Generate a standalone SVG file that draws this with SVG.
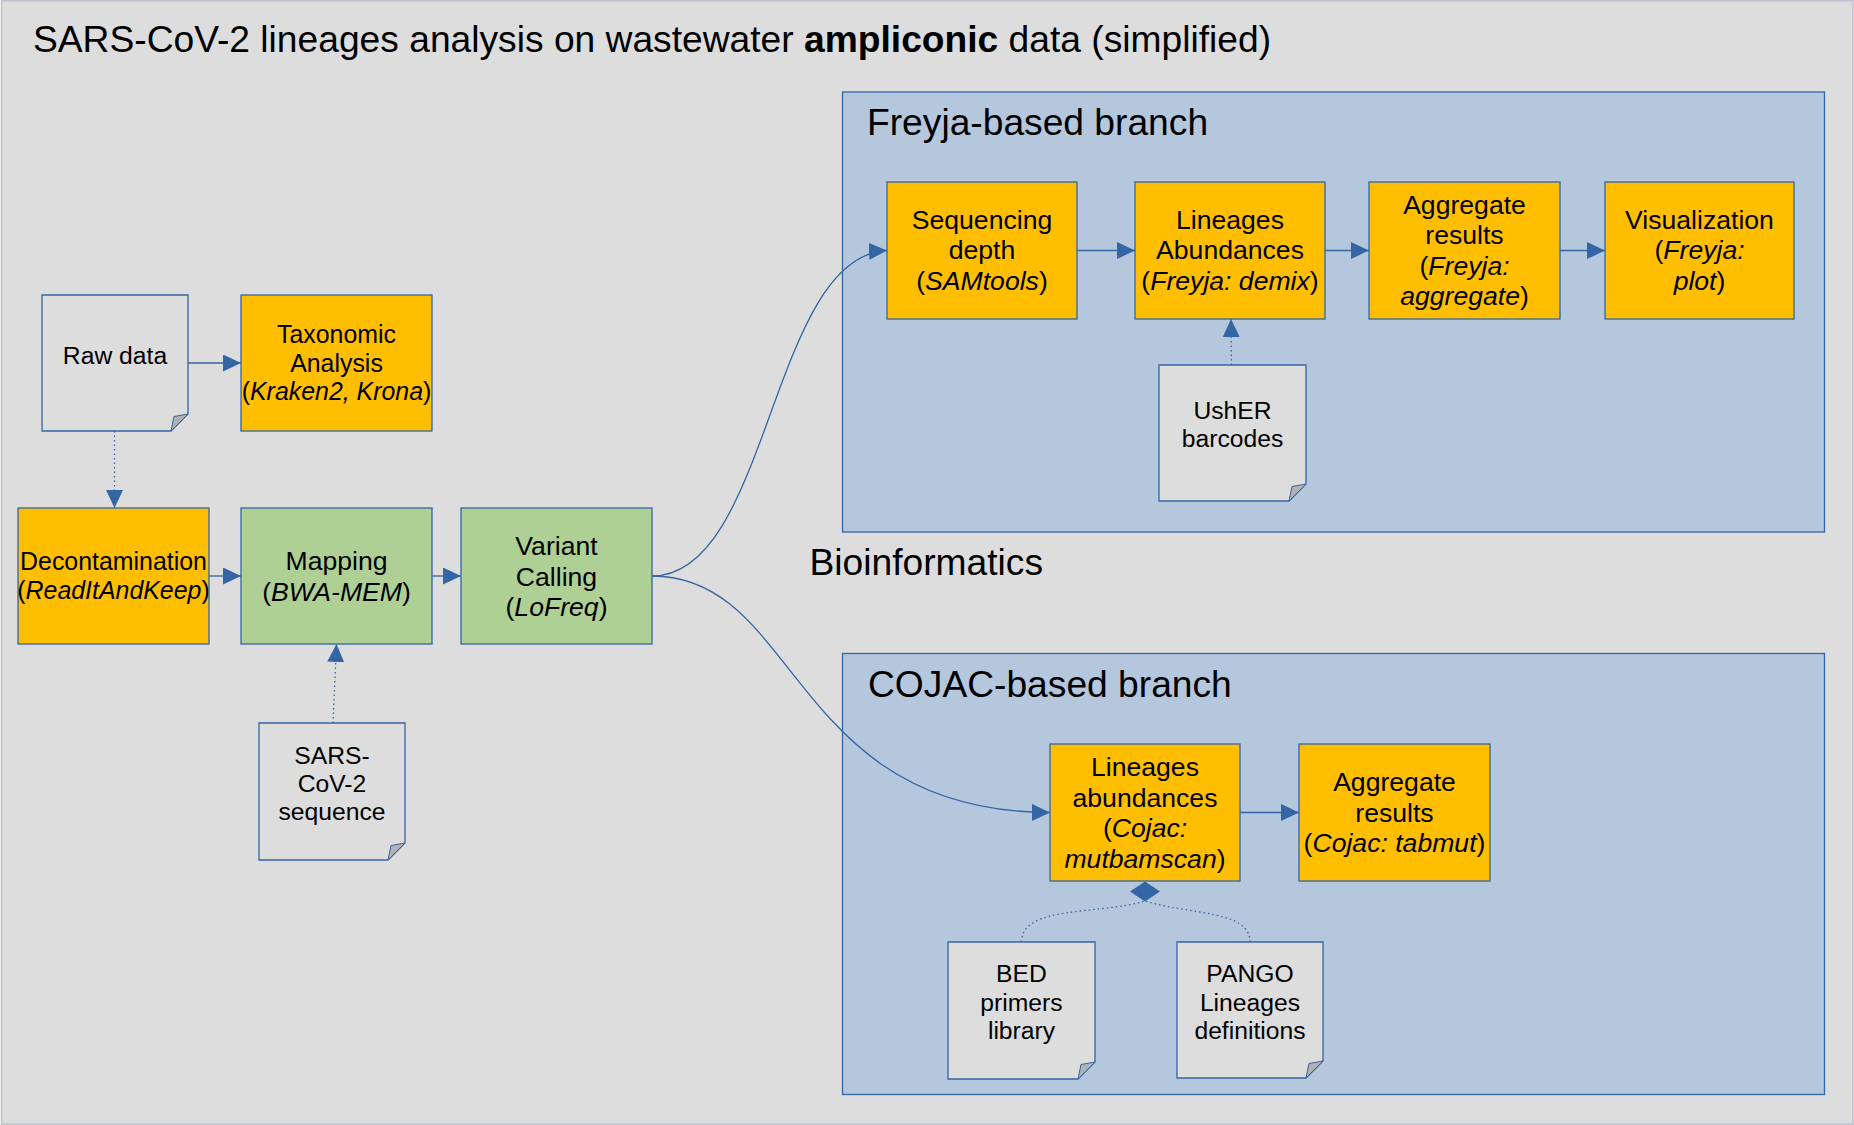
<svg xmlns="http://www.w3.org/2000/svg" width="1854" height="1125" viewBox="0 0 1854 1125">
<defs>
<style>
.bg{fill:#dddddd;stroke:#c0c0d0;stroke-width:1.5}
.proc{fill:#ffbf00;stroke:#3465a4;stroke-width:1.3}
.map{fill:#afd095;stroke:#3465a4;stroke-width:1.3}
.cont{fill:#b4c7dc;stroke:#3465a4;stroke-width:1.3}
.note{fill:#dddddd;stroke:#3465a4;stroke-width:1.3}
.fold{fill:#b2b2b2;stroke:#3465a4;stroke-width:1}
text{font-family:"Liberation Sans",Arial,sans-serif;fill:#000}
.t{font-size:24.9px;text-anchor:middle}
.n{font-size:24.7px;text-anchor:middle}
.tb{font-size:26.6px;text-anchor:middle}
.big{font-size:37.2px}
.i{font-style:italic}
.conn{fill:none;stroke:#3465a4;stroke-width:1.3}
.dot{stroke-dasharray:1.5 3}
</style>
<marker id="arr" markerUnits="userSpaceOnUse" markerWidth="18" markerHeight="17" refX="18" refY="8.5" orient="auto">
<path d="M0,0 L18,8.5 L0,17 Z" fill="#3465a4"/>
</marker>
</defs>
<rect class="bg" x="1.5" y="0.75" width="1851.5" height="1123.5"/>
<text class="big" x="33" y="51.7">SARS-CoV-2 lineages analysis on wastewater <tspan font-weight="bold">ampliconic</tspan> data (simplified)</text>

<g id="freyja-branch">
<rect class="cont" x="842.5" y="92" width="982" height="440"/>
<text class="big" x="867" y="135">Freyja-based branch</text>
</g>
<g id="cojac-branch">
<rect class="cont" x="842.5" y="653.5" width="982" height="441"/>
<text class="big" x="868" y="697.3">COJAC-based branch</text>
</g>
<text class="big" x="809.5" y="574.5">Bioinformatics</text>

<g id="raw-data">
<path class="note" d="M42,295 H188 V414 L171,431 H42 Z"/>
<path class="fold" d="M188,414 L171,431 L174,416.5 Z"/>
<text class="n" x="115" y="364">Raw data</text>
</g>
<g id="taxonomic">
<rect class="proc" x="241" y="295" width="191" height="136"/>
<text class="t" x="336.5" y="343.2">Taxonomic</text>
<text class="t" x="336.5" y="371.8">Analysis</text>
<text class="t" x="336.5" y="400.4">(<tspan class="i">Kraken2, Krona</tspan>)</text>
</g>
<g id="decontamination">
<rect class="proc" x="18" y="508" width="191" height="136"/>
<text class="t" x="113.5" y="570">Decontamination</text>
<text class="t" x="113.5" y="598.6">(<tspan class="i">ReadItAndKeep</tspan>)</text>
</g>
<g id="mapping">
<rect class="map" x="241" y="508" width="191" height="136"/>
<text class="tb" x="336.5" y="570.2">Mapping</text>
<text class="tb" x="336.5" y="600.8">(<tspan class="i">BWA-MEM</tspan>)</text>
</g>
<g id="variant-calling">
<rect class="map" x="461" y="508" width="191" height="136"/>
<text class="tb" x="556.5" y="554.9">Variant</text>
<text class="tb" x="556.5" y="585.5">Calling</text>
<text class="tb" x="556.5" y="616.1">(<tspan class="i">LoFreq</tspan>)</text>
</g>
<g id="sars-cov-2-sequence">
<path class="note" d="M259,723 H405 V843 L388,860 H259 Z"/>
<path class="fold" d="M405,843 L388,860 L391,845.5 Z"/>
<text class="n" x="332" y="763.5">SARS-</text>
<text class="n" x="332" y="791.9">CoV-2</text>
<text class="n" x="332" y="820.3">sequence</text>
</g>

<g id="sequencing-depth">
<rect class="proc" x="887" y="182" width="190" height="137"/>
<text class="tb" x="982" y="228.8">Sequencing</text>
<text class="tb" x="982" y="259.4">depth</text>
<text class="tb" x="982" y="290">(<tspan class="i">SAMtools</tspan>)</text>
</g>
<g id="lineages-abundances-freyja">
<rect class="proc" x="1135" y="182" width="190" height="137"/>
<text class="tb" x="1230" y="228.8">Lineages</text>
<text class="tb" x="1230" y="259.4">Abundances</text>
<text class="tb" x="1230" y="290">(<tspan class="i">Freyja: demix</tspan>)</text>
</g>
<g id="aggregate-freyja">
<rect class="proc" x="1369" y="182" width="191" height="137"/>
<text class="tb" x="1464.5" y="213.5">Aggregate</text>
<text class="tb" x="1464.5" y="244.1">results</text>
<text class="tb" x="1464.5" y="274.7">(<tspan class="i">Freyja:</tspan></text>
<text class="tb" x="1464.5" y="305.3"><tspan class="i">aggregate</tspan>)</text>
</g>
<g id="visualization">
<rect class="proc" x="1605" y="182" width="189" height="137"/>
<text class="tb" x="1699.5" y="228.8">Visualization</text>
<text class="tb" x="1699.5" y="259.4">(<tspan class="i">Freyja:</tspan></text>
<text class="tb" x="1699.5" y="290"><tspan class="i">plot</tspan>)</text>
</g>
<g id="usher-barcodes">
<path class="note" d="M1159,365 H1306 V484 L1289,501 H1159 Z"/>
<path class="fold" d="M1306,484 L1289,501 L1292,486.5 Z"/>
<text class="n" x="1232.5" y="418.8">UshER</text>
<text class="n" x="1232.5" y="447.2">barcodes</text>
</g>

<g id="lineages-abundances-cojac">
<rect class="proc" x="1050" y="744" width="190" height="137"/>
<text class="tb" x="1145" y="776">Lineages</text>
<text class="tb" x="1145" y="806.6">abundances</text>
<text class="tb" x="1145" y="837.2">(<tspan class="i">Cojac:</tspan></text>
<text class="tb" x="1145" y="867.8"><tspan class="i">mutbamscan</tspan>)</text>
</g>
<g id="aggregate-cojac">
<rect class="proc" x="1299" y="744" width="191" height="137"/>
<text class="tb" x="1394.5" y="791">Aggregate</text>
<text class="tb" x="1394.5" y="821.6">results</text>
<text class="tb" x="1394.5" y="852.2">(<tspan class="i">Cojac: tabmut</tspan>)</text>
</g>
<g id="bed-primers">
<path class="note" d="M948,942 H1095 V1062 L1078,1079 H948 Z"/>
<path class="fold" d="M1095,1062 L1078,1079 L1081,1064.5 Z"/>
<text class="n" x="1021.5" y="982.2">BED</text>
<text class="n" x="1021.5" y="1010.6">primers</text>
<text class="n" x="1021.5" y="1039">library</text>
</g>
<g id="pango-lineages">
<path class="note" d="M1177,942 H1323 V1061 L1306,1078 H1177 Z"/>
<path class="fold" d="M1323,1061 L1306,1078 L1309,1063.5 Z"/>
<text class="n" x="1250" y="982.2">PANGO</text>
<text class="n" x="1250" y="1010.6">Lineages</text>
<text class="n" x="1250" y="1039">definitions</text>
</g>

<g id="connectors">
<path class="conn" d="M188,363 H241" marker-end="url(#arr)"/>
<path class="conn dot" d="M114.5,431 V508" marker-end="url(#arr)"/>
<path class="conn" d="M209,576 H241" marker-end="url(#arr)"/>
<path class="conn" d="M432,576 H461" marker-end="url(#arr)"/>
<path class="conn dot" d="M333,723 L336.5,644" marker-end="url(#arr)"/>
<path class="conn" d="M652,576 C770,576 770,256 887,250.5" marker-end="url(#arr)"/>
<path class="conn" d="M652,576 C800,576 790,812.5 1050,812.5" marker-end="url(#arr)"/>
<path class="conn" d="M1077,250.5 H1135" marker-end="url(#arr)"/>
<path class="conn" d="M1325,250.5 H1369" marker-end="url(#arr)"/>
<path class="conn" d="M1560,250.5 H1605" marker-end="url(#arr)"/>
<path class="conn dot" d="M1231.5,365 L1231,319" marker-end="url(#arr)"/>
<path class="conn" d="M1240,812.5 H1299" marker-end="url(#arr)"/>
<path class="conn dot" d="M1021.5,942 C1021.5,905 1100,915 1145,901"/>
<path class="conn dot" d="M1250,942 C1250,910 1190,915 1145,901"/>
<path d="M1145,881.5 L1160,891.5 L1145,901.5 L1130,891.5 Z" fill="#3465a4"/>
</g>
</svg>
